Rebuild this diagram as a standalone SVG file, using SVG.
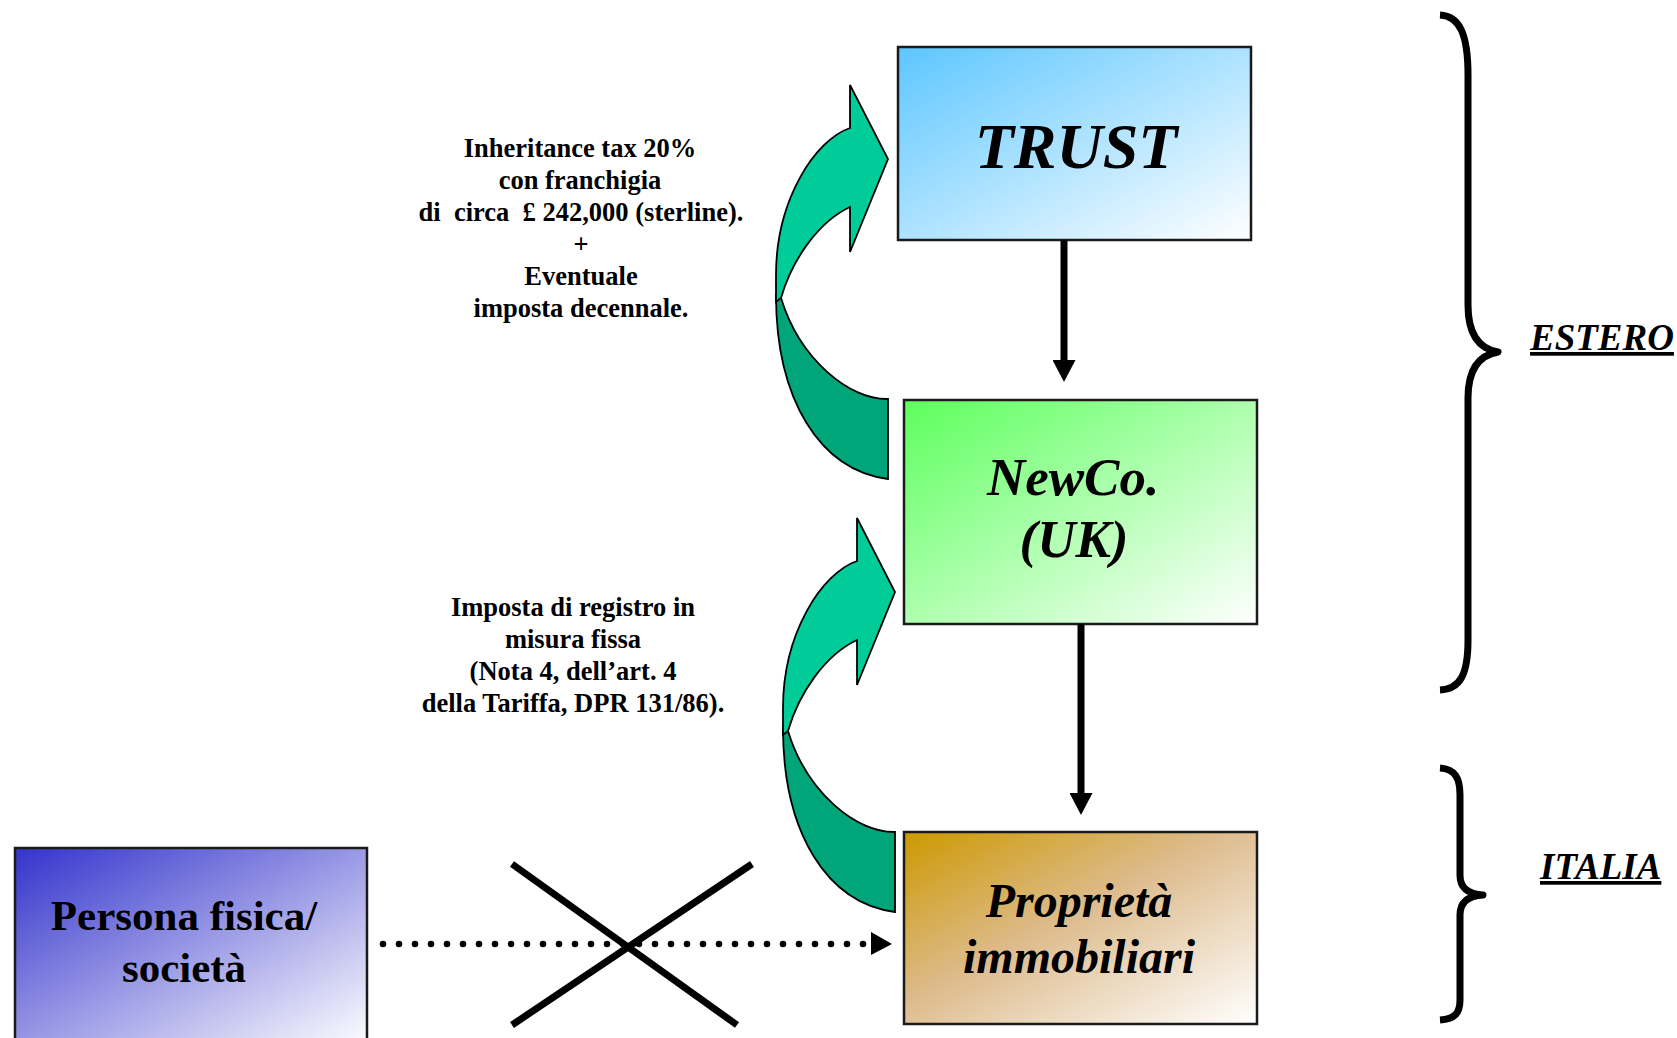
<svg xmlns="http://www.w3.org/2000/svg" xmlns:xlink="http://www.w3.org/1999/xlink" width="1677" height="1038" viewBox="0 0 1677 1038">
<style>
.box{stroke:#1a1a1a;stroke-width:2.5}
.title{font-family:"Liberation Serif","Times New Roman",serif;font-weight:bold;font-style:italic;fill:#000;text-anchor:middle}
.plain{font-family:"Liberation Serif","Times New Roman",serif;font-weight:bold;fill:#000;text-anchor:middle}
.note{font-family:"Liberation Serif","Times New Roman",serif;font-weight:bold;font-size:26.5px;fill:#000;text-anchor:middle}
.region{font-family:"Liberation Serif","Times New Roman",serif;font-weight:bold;font-style:italic;font-size:37px;fill:#000;text-decoration:underline}
.conn{stroke:#000;stroke-width:7;fill:none}
.brace{stroke:#000;stroke-width:7;fill:none;stroke-linecap:butt;stroke-linejoin:round}
.light{fill:#00CC99;stroke:#000;stroke-width:1.8;stroke-linejoin:miter}
.dark{fill:#00A57A;stroke:#000;stroke-width:1.8}
</style>
<defs>
<linearGradient id="gBlue" x1="0" y1="0" x2="1" y2="1">
<stop offset="0" stop-color="#5CC6FF"/><stop offset="1" stop-color="#FFFFFF"/>
</linearGradient>
<linearGradient id="gGreen" x1="0" y1="0" x2="1" y2="1">
<stop offset="0" stop-color="#5CFF5C"/><stop offset="1" stop-color="#FFFFFF"/>
</linearGradient>
<linearGradient id="gBrown" x1="0" y1="0" x2="1" y2="1">
<stop offset="0" stop-color="#CC9900"/><stop offset="0.45" stop-color="#DDBB8C"/><stop offset="1" stop-color="#FFFFFF"/>
</linearGradient>
<linearGradient id="gPurple" x1="0" y1="0" x2="1" y2="1">
<stop offset="0" stop-color="#3333CC"/><stop offset="1" stop-color="#FFFFFF"/>
</linearGradient>
<marker id="head" viewBox="0 0 22 23" refX="2" refY="11.5" markerWidth="22" markerHeight="23" markerUnits="userSpaceOnUse" orient="auto">
<path d="M0,0 L22,11.5 L0,23 Z" fill="#000"/>
</marker>
<g id="curvedArrow">
<path class="dark" d="M776,295 C776,400 820,470 888,479 L888,399 C850,400 800,360 781,298 Z"/>
<path class="light" d="M850,128 L850,85 L888,159 L850,252 L850,207 C818,222 792,260 781,298 L776,302 L776,275 C776,200 815,140 850,128 Z"/>
</g>
</defs>
<rect width="1677" height="1038" fill="#FFFFFF"/>

<g id="trust">
<rect class="box" x="898" y="47" width="353" height="193" fill="url(#gBlue)"/>
<text class="title" x="1076" y="168" font-size="64">TRUST</text>
</g>

<g id="newco">
<rect class="box" x="904" y="400" width="353" height="224" fill="url(#gGreen)"/>
<text class="title" x="1073" y="495" font-size="53">NewCo.</text>
<text class="title" x="1074" y="557" font-size="53">(UK)</text>
</g>

<g id="proprieta">
<rect class="box" x="904" y="832" width="353" height="192" fill="url(#gBrown)"/>
<text class="title" x="1079" y="917" font-size="48">Proprietà</text>
<text class="title" x="1079" y="973" font-size="48">immobiliari</text>
</g>

<g id="persona">
<rect class="box" x="15" y="848" width="352" height="200" fill="url(#gPurple)"/>
<text class="plain" x="184" y="930" font-size="43">Persona fisica/</text>
<text class="plain" x="184" y="982" font-size="43">società</text>
</g>

<g id="note-trust">
<text class="note" x="580" y="157">Inheritance tax 20%</text>
<text class="note" x="580" y="189">con franchigia</text>
<text class="note" x="581" y="221" xml:space="preserve">di  circa  £ 242,000 (sterline).</text>
<text class="note" x="581" y="253">+</text>
<text class="note" x="581" y="285">Eventuale</text>
<text class="note" x="581" y="317">imposta decennale.</text>
</g>

<g id="note-newco">
<text class="note" x="573" y="616">Imposta di registro in</text>
<text class="note" x="573" y="648">misura fissa</text>
<text class="note" x="573" y="680">(Nota 4, dell’art. 4</text>
<text class="note" x="573" y="712">della Tariffa, DPR 131/86).</text>
</g>

<g id="estero">
<path class="brace" d="M1440,15 C1460,16 1468,35 1468,75 L1468,305 C1468,335 1480,349 1498,352 C1480,355 1468,368 1468,398 L1468,640 C1468,675 1460,689 1440,690"/>
<text class="region" x="1530" y="350">ESTERO</text>
</g>

<g id="italia">
<path class="brace" d="M1440,768 C1455,769 1460,778 1460,795 L1460,875 C1460,888 1468,894 1483,895 C1468,896 1460,902 1460,915 L1460,1000 C1460,1013 1455,1019 1440,1020"/>
<text class="region" x="1540" y="879">ITALIA</text>
</g>

<g id="connectors">
<use xlink:href="#curvedArrow" href="#curvedArrow"/>
<use xlink:href="#curvedArrow" href="#curvedArrow" transform="translate(7,433)"/>
<line class="conn" x1="1064" y1="240" x2="1064" y2="362" marker-end="url(#head)"/>
<line class="conn" x1="1081" y1="624" x2="1081" y2="795" marker-end="url(#head)"/>
<line x1="383" y1="944" x2="863.05" y2="944" stroke="#000" stroke-width="6.5" stroke-linecap="round" stroke-dasharray="0 16"/>
<path d="M871,932 L892,944 L871,955 Z" fill="#000"/>
<line x1="512" y1="864" x2="737" y2="1025" stroke="#000" stroke-width="7"/>
<line x1="752" y1="864" x2="512" y2="1025" stroke="#000" stroke-width="7"/>
</g>
</svg>
